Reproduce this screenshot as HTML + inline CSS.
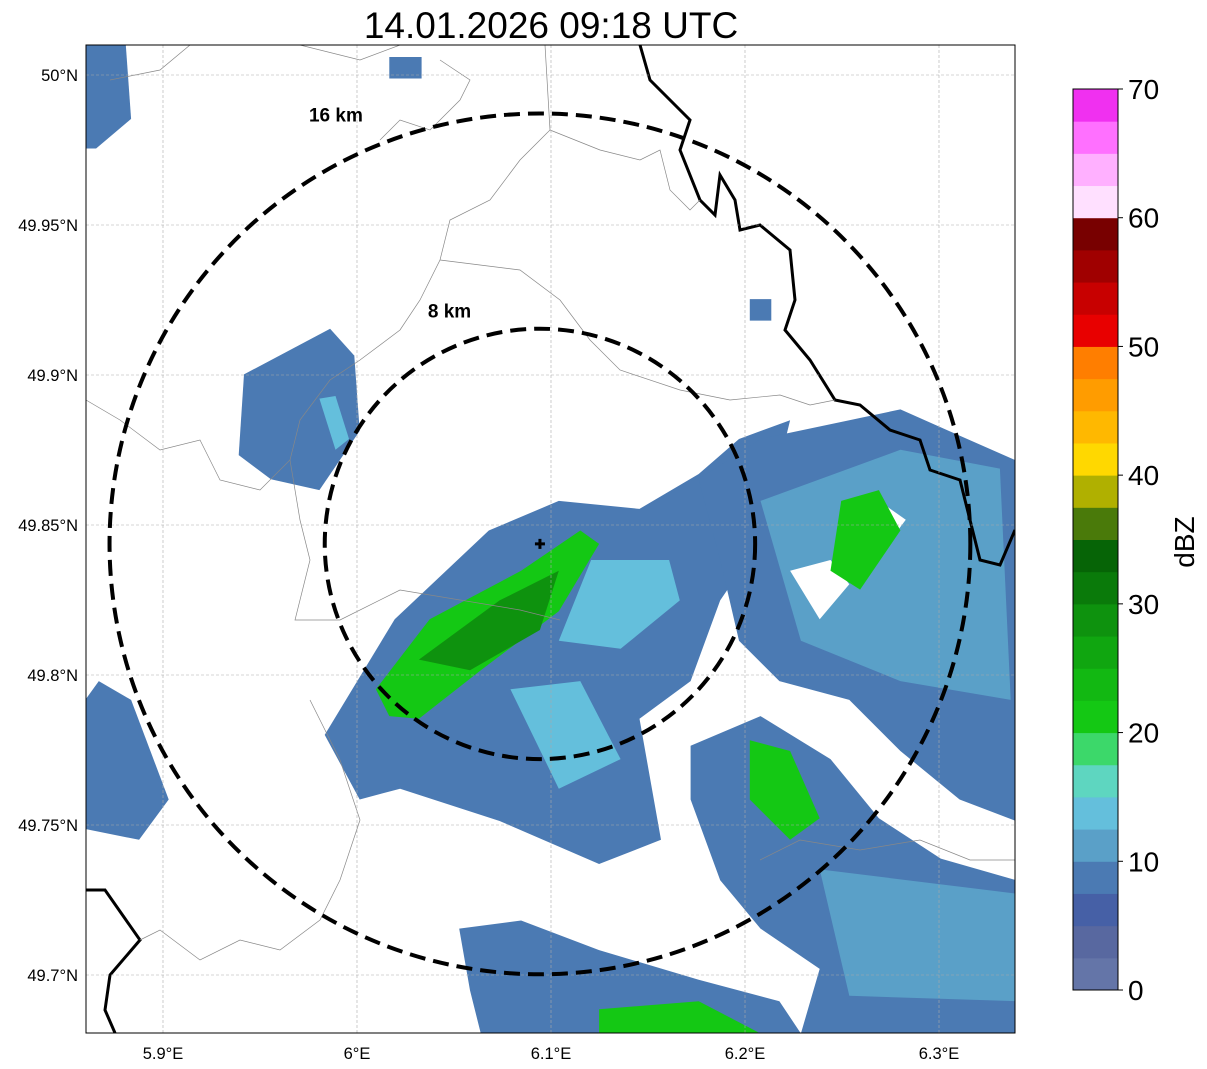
<!DOCTYPE html>
<html><head><meta charset="utf-8"><style>
body{margin:0;background:#fff;font-family:"Liberation Sans",sans-serif}
svg{display:block}
</style></head><body>
<svg id="chart" width="1207" height="1069" xmlns="http://www.w3.org/2000/svg" font-family="Liberation Sans, sans-serif">
<defs><clipPath id="plotclip"><rect x="86" y="45" width="929" height="988"/></clipPath></defs>
<text x="551" y="38" font-size="37" text-anchor="middle">14.01.2026 09:18 UTC</text>
<g id="echoes" clip-path="url(#plotclip)"></g>
<g id="geo" clip-path="url(#plotclip)" fill="none">
<path stroke="#000" stroke-width="3" d="M640,45 L650,80 L690,120 L680,150 L700,200 L715,215 L720,175 L735,200 L740,230 L760,225 L790,250 L795,300 L785,330 L810,360 L835,400 L860,405 L890,430 L920,440 L930,470 L960,480 L970,520 L980,560 L1000,565 L1015,530"/>
<path stroke="#000" stroke-width="3" d="M86,890 L105,890 L140,940 L110,975 L105,1010 L115,1033"/>
<path stroke="#888" stroke-width="0.7" d="M545,45 L550,130 L520,160 L490,200 L450,220 L440,260 L420,300 L400,330 L360,360 L330,380 L300,420 L290,460 L260,490 L220,480 L200,440 L160,450 L120,420 L86,400"/>
<path stroke="#888" stroke-width="0.7" d="M550,130 L600,150 L640,160 L660,150 L670,190 L690,210 L700,200"/>
<path stroke="#888" stroke-width="0.7" d="M440,260 L520,270 L560,300 L590,340 L620,370 L680,390 L730,400 L780,395 L810,405 L835,400"/>
<path stroke="#888" stroke-width="0.7" d="M290,460 L300,520 L310,560 L295,620 L340,620 L400,590 L460,600 L520,610 L560,620"/>
<path stroke="#888" stroke-width="0.7" d="M310,700 L340,760 L360,820 L340,880 L320,920 L280,950 L240,940 L200,960 L160,930 L140,940"/>
<path stroke="#888" stroke-width="0.7" d="M760,860 L800,840 L860,850 L920,840 L970,860 L1015,860"/>
<path stroke="#888" stroke-width="0.7" d="M110,80 L160,70 L190,45 M300,45 L360,60 L400,45 M440,60 L470,80 L460,100 L430,130 L400,120 L380,140"/>
</g>
<g id="grid"></g>
<g id="rings"></g>
<rect x="86" y="45" width="929" height="988" fill="none" stroke="#000" stroke-width="1"/>
<g id="axes"></g>
<g id="cbar"></g>
</svg>
<script>
const NS='http://www.w3.org/2000/svg';
const lonTicks=[5.9,6.0,6.1,6.2,6.3];
const lonLabels=['5.9°E','6°E','6.1°E','6.2°E','6.3°E'];
const latTicks=[50.0,49.95,49.9,49.85,49.8,49.75,49.7];
const latLabels=['50°N','49.95°N','49.9°N','49.85°N','49.8°N','49.75°N','49.7°N'];
const radarLon=6.0943, radarLat=49.8437;
const ringKm=[8,16];
const ringLabels=['8 km','16 km'];
const cbarTicks=[0,10,20,30,40,50,60,70];
const cbarColors=['#6475a8','#5868a0','#4660a6','#4b7ab3','#5aa0c8','#64bfdc','#5ed6c0','#3cd86a','#14c814','#12b812','#10a610','#0e920e','#0a7a0a','#066406','#4a7a0a','#b0b000','#ffd800','#ffb800','#ff9c00','#ff7e00','#e80000','#c80000','#a00000','#780000','#ffe0ff','#ffb0ff','#ff70ff','#f030f0'];
const echoDbz=[7.6,21,28,13,13,7.6,11,null,null,null,21,7.6,21,21,11,7.6,21,7.6,13,7.6,7.6,7.6,7.6];
const echoKm=[
[[-8,-7.1],[-5.4,-2.8],[-1.9,0.5],[0.7,1.6],[3.7,1.3],[5.9,2.6],[7.4,3.9],[9.3,4.6],[8.2,0.1],[6.7,-2.1],[5.6,-5.1],[3.7,-6.5],[4.5,-11],[2.2,-11.9],[-1.5,-10.3],[-5.2,-9.1],[-6.7,-9.5]],
[[-6.1,-5.4],[-4.1,-2.8],[-0.7,-1],[1.5,0.5],[2.2,0],[0.7,-2.5],[-2.2,-4.7],[-4.5,-6.5],[-5.6,-6.4]],
[[-4.5,-4.3],[-1.5,-2.1],[0.7,-1],[0,-3.2],[-2.6,-4.7]],
[[1.9,-0.6],[4.8,-0.6],[5.2,-2.1],[3,-3.9],[0.7,-3.6]],
[[-1.1,-5.4],[1.5,-5.1],[3,-8],[0.7,-9.1]],
[[5.9,2.4],[8.2,3.9],[11.5,4.6],[13.4,5],[15.2,4.2],[17.7,3.1],[17.7,-10.3],[15.6,-9.5],[13.4,-7.7],[11.5,-5.8],[8.9,-5.1],[7.4,-3.6],[6.7,-0.6]],
[[8.2,1.6],[13.4,3.5],[17.1,2.8],[17.5,-5.8],[13.4,-5.1],[9.7,-3.6]],
[[9.3,-1],[10.8,-0.6],[11.5,-1.5],[10.4,-2.8]],
[[5.9,-5.8],[7.4,-4.3],[8.2,-5.8],[6.7,-7.3]],
[[12.6,1.6],[13.6,0.9],[13,0.1]],
[[11.2,1.6],[12.6,2],[13.4,0.5],[11.9,-1.7],[10.8,-1]],
[[5.6,-7.5],[8.2,-6.4],[10.8,-8],[12.6,-10.2],[14.9,-11.7],[17.7,-12.5],[17.7,-18.2],[9.7,-18.2],[10.4,-15.8],[8.2,-14.3],[6.7,-12.5],[5.6,-9.5]],
[[7.8,-7.3],[9.3,-7.7],[10.4,-10.2],[9.3,-11],[7.8,-9.5]],
[[12.6,-13.8],[15.6,-13.4],[16.4,-14.5],[13.4,-15.2]],
[[10.4,-12.1],[17.7,-13],[17.7,-17],[11.5,-16.8]],
[[-3,-14.3],[-0.7,-14],[2.2,-15.1],[5.9,-16.2],[8.9,-17],[9.7,-18.2],[-2.2,-18.2],[-2.6,-16.6]],
[[2.2,-17.3],[5.9,-17],[8.2,-18.2],[2.2,-18.2]],
[[-11,6.3],[-7.8,8],[-6.9,7],[-6.7,4.2],[-8.2,2],[-10,2.4],[-11.2,3.3]],
[[-8.2,5.4],[-7.6,5.5],[-7.1,3.9],[-7.6,3.5]],
[[-16.9,-5.8],[-16.4,-5.1],[-15.2,-5.8],[-13.8,-9.5],[-14.9,-11],[-16.9,-10.6]],
[[-16.9,18.6],[-15.4,18.6],[-15.2,15.8],[-16.5,14.7],[-16.9,14.7]],
[[-5.6,18.1],[-4.4,18.1],[-4.4,17.3],[-5.6,17.3]],
[[7.8,9.1],[8.6,9.1],[8.6,8.3],[7.8,8.3]]
];
const X0=86,X1=1015,Y0=45,Y1=1033;
function xLon(lon){return 163+(lon-5.9)*1940;}
function yLat(lat){return 75+(50-lat)*3000;}
const KMPX=26.9;
function xKm(k){return xLon(radarLon)+k*KMPX;}
function yKm(k){return yLat(radarLat)-k*KMPX;}
function colorFor(d){if(d===null)return '#ffffff';return cbarColors[Math.max(0,Math.min(27,Math.floor(d/2.5)))];}
function mk(tag,attrs,parent){const e=document.createElementNS(NS,tag);for(const k in attrs)e.setAttribute(k,attrs[k]);parent.appendChild(e);return e;}

const echoes=document.getElementById('echoes');
echoKm.forEach((poly,i)=>{
  const pts=poly.map(p=>xKm(p[0]).toFixed(1)+','+yKm(p[1]).toFixed(1)).join(' ');
  const e=mk('polygon',{points:pts,fill:colorFor(echoDbz[i])},echoes);
  
  
});

const grid=document.getElementById('grid'), axes=document.getElementById('axes');
lonTicks.forEach((v,i)=>{
  const x=xLon(v);
  const g=mk('line',{x1:x,x2:x,y1:Y0,y2:Y1,stroke:'#aaa','stroke-width':0.6,'stroke-dasharray':'3,2'},grid);
  
  
  const t=mk('text',{x:x,y:1059,'font-size':16.5,'text-anchor':'middle'},axes);
  t.textContent=lonLabels[i];
  
  
});
latTicks.forEach((v,i)=>{
  const y=yLat(v);
  const g=mk('line',{x1:X0,x2:X1,y1:y,y2:y,stroke:'#aaa','stroke-width':0.6,'stroke-dasharray':'3,2'},grid);
  
  
  const t=mk('text',{x:78,y:y+6,'font-size':16.5,'text-anchor':'end'},axes);
  t.textContent=latLabels[i];
  
  
});

const rings=document.getElementById('rings');
const cx=xLon(radarLon), cy=yLat(radarLat);
const labelFx=[-0.42,-0.474], labelFy=[1.08,0.995];
ringKm.forEach((r,i)=>{
  const c=mk('circle',{cx:cx,cy:cy,r:r*KMPX,fill:'none',stroke:'#000','stroke-width':4,'stroke-dasharray':'16,8'},rings);
  
  
  const t=mk('text',{x:cx+labelFx[i]*r*KMPX,y:cy-labelFy[i]*r*KMPX+6,'font-size':19,'font-weight':'bold','text-anchor':'middle'},rings);
  t.textContent=ringLabels[i];
  
  
});
const m=mk('path',{d:`M${cx-5},${cy} h10 M${cx},${cy-5} v10`,stroke:'#000','stroke-width':3},rings);



const cbar=document.getElementById('cbar');
const CB_X=1073,CB_W=45,CB_TOP=89,CB_BOT=990;
function yCb(v){return CB_BOT-(v/70)*(CB_BOT-CB_TOP);}
cbarColors.forEach((c,i)=>{
  const r=mk('rect',{x:CB_X,y:yCb((i+1)*2.5),width:CB_W,height:yCb(i*2.5)-yCb((i+1)*2.5)+0.5,fill:c},cbar);
  
  
});
const fr=mk('rect',{x:CB_X,y:CB_TOP,width:CB_W,height:CB_BOT-CB_TOP,fill:'none',stroke:'#000','stroke-width':1},cbar);


cbarTicks.forEach(v=>{
  const y=yCb(v);
  const l=mk('line',{x1:CB_X+CB_W,x2:CB_X+CB_W+5,y1:y,y2:y,stroke:'#000'},cbar);
  
  
  const t=mk('text',{x:1128,y:y+10,'font-size':28},cbar);
  t.textContent=v;
  
  
});
const lab=mk('text',{x:1194,y:542,'font-size':28,'text-anchor':'middle',transform:'rotate(-90 1194 542)'},cbar);
lab.textContent='dBZ';


</script>
</body></html>
